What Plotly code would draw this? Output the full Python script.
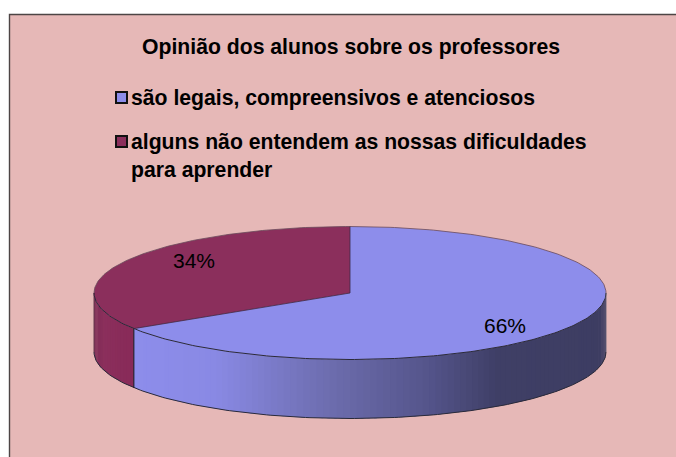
import math
import plotly.graph_objects as go

categories = ["são legais, compreensivos e atenciosos",
              "alguns não entendem as nossas dificuldades<br>para aprender"]
values = [66, 34]
percent_labels = ["66%", "34%"]
title_text = "Opinião dos alunos sobre os professores"

W, H = 676, 457
CX, CY, RX, RY, DEPTH = 350, 293, 256, 66.5, 59
BLUE, MAROON = "#8D8DEB", "#8B2F5C"
EDGE = "#2a2a3a"
BG = "#E6B8B7"
STOPS = [(134, (141, 141, 235)), (215, (137, 137, 228)), (337, (107, 107, 171)),
         (430, (84, 84, 138)), (497, (63, 63, 102)), (606, (61, 61, 98))]
MSTOPS = [(94, (125, 45, 85)), (104, (139, 47, 92)), (134, (136, 42, 88))]


def pt(theta, dz=0):
    a = math.radians(theta)
    return CX + RX * math.sin(a), CY - RY * math.cos(a) + dz


def arc(t0, t1, dz=0, step=1.0):
    n = max(2, int(abs(t1 - t0) / step) + 1)
    return [pt(t0 + (t1 - t0) * i / (n - 1), dz) for i in range(n)]


def color_at(x, stops):
    if x <= stops[0][0]:
        c = stops[0][1]
    elif x >= stops[-1][0]:
        c = stops[-1][1]
    else:
        for (x0, c0), (x1, c1) in zip(stops, stops[1:]):
            if x0 <= x <= x1:
                f = (x - x0) / (x1 - x0)
                c = tuple(c0[i] + (c1[i] - c0[i]) * f for i in range(3))
                break
    return "rgb(%d,%d,%d)" % tuple(round(v) for v in c)


fig = go.Figure()


def poly(points, fill=None, line=None, width=1):
    fig.add_trace(go.Scatter(
        x=[p[0] for p in points], y=[p[1] for p in points], mode="lines",
        fill="toself" if fill else None, fillcolor=fill,
        line=dict(color=line or "rgba(0,0,0,0)", width=width if line else 0),
        hoverinfo="skip", showlegend=False))


total = sum(values)
split = 360 * values[0] / total  # boundary, clockwise from 12 o'clock


def side(t0, t1, stops):
    step = 1.5
    t = t0
    while t < t1:
        e = min(t + step, t1)
        pe = min(e + 0.6, t1)
        upper = arc(t, pe, 0, 0.5)
        lower = arc(t, pe, DEPTH, 0.5)
        poly(upper + lower[::-1] + [upper[0]], fill=color_at(pt((t + e) / 2)[0], stops))
        t = e


# side walls
side(split, 270, MSTOPS)
side(90, split, STOPS)
# top faces
poly([(CX, CY)] + arc(0, split) + [(CX, CY)], fill=BLUE)
poly([(CX, CY)] + arc(split, 360) + [(CX, CY)], fill=MAROON)
# outlines
poly(arc(90, 270, DEPTH), line=EDGE, width=1)
poly(arc(90, 270, 0), line=EDGE, width=1)
poly(arc(270, 450, 0), line="#6a4a5a", width=0.8)
poly([pt(90), pt(90, DEPTH)], line="#55556f", width=0.8)
poly([pt(270), pt(270, DEPTH)], line="#4a2038", width=0.8)
poly([pt(split), pt(split, DEPTH)], line="#111111", width=1)
poly([pt(0), (CX, CY), pt(split)], line="#3a2a4a", width=0.8)

# legend swatches
for y, c in zip([97.5, 141.5], [BLUE, MAROON]):
    fig.add_trace(go.Scatter(x=[121.5], y=[y], mode="markers", hoverinfo="skip", showlegend=False,
                             marker=dict(symbol="square", size=11, color=c,
                                         line=dict(color="#111111", width=2))))

FONT = "Liberation Sans, Arial, sans-serif"
ann = [
    dict(x=350.5, y=47, text="<b>%s</b>" % title_text, xanchor="center", yanchor="middle",
         font=dict(size=21.2, family=FONT, color="#000000")),
    dict(x=129, y=97.5, text="<b>%s</b>" % categories[0], xanchor="left", yanchor="middle",
         font=dict(size=21.2, family=FONT, color="#000000")),
    dict(x=129, y=156, text="<b>%s</b>" % categories[1], xanchor="left", yanchor="middle", align="left",
         font=dict(size=21.2, family=FONT, color="#000000")),
    dict(x=505, y=325, text=percent_labels[0], xanchor="center", yanchor="middle",
         font=dict(size=21, family=FONT, color="#000000")),
    dict(x=194, y=260, text=percent_labels[1], xanchor="center", yanchor="middle",
         font=dict(size=21, family=FONT, color="#000000")),
]
for a in ann:
    a.update(showarrow=False, xref="x", yref="y")

fig.update_layout(
    width=W, height=H, margin=dict(l=0, r=0, t=0, b=0),
    paper_bgcolor="#FFFFFF", plot_bgcolor="#FFFFFF", showlegend=False, annotations=ann,
    xaxis=dict(range=[0, W], visible=False, fixedrange=True),
    yaxis=dict(range=[H, 0], visible=False, fixedrange=True),
    shapes=[
        dict(type="rect", xref="x", yref="y", x0=9.5, y0=14.5, x1=W + 5, y1=H + 5, layer="below",
             fillcolor=BG, line=dict(color="#4d4545", width=1.4)),
    ],
)
fig.write_html("out.html", config=dict(displayModeBar=False),
               post_script="document.body.style.margin='0';document.documentElement.style.overflow='hidden';")
